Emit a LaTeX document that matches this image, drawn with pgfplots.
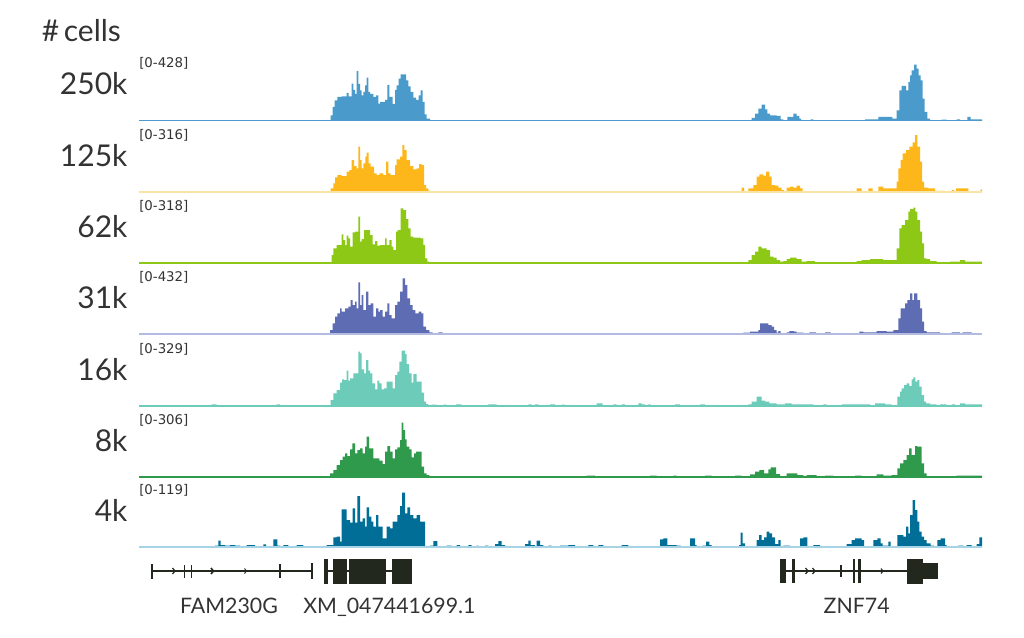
\documentclass[border=0pt]{standalone}
\usepackage{pgfplots}
\pgfplotsset{compat=1.18}
\usepackage{fontspec}
\setmainfont{Lato}
\newfontfamily\dejavu{DejaVu Sans}
\definecolor{c1}{HTML}{4A9BCB}
\definecolor{c2}{HTML}{FDB71B}
\definecolor{c2l}{HTML}{FBE3A8}
\definecolor{c3}{HTML}{8EC817}
\definecolor{c4}{HTML}{5E6DB3}
\definecolor{c4l}{HTML}{B4BBE0}
\definecolor{c5}{HTML}{6DCBB9}
\definecolor{c6}{HTML}{2F9A4C}
\definecolor{c7}{HTML}{006E96}
\definecolor{c7l}{HTML}{A6D3E6}
\definecolor{gc}{HTML}{23281F}
\definecolor{tc}{HTML}{333333}
\pgfplotsset{
  trk/.style={hide axis, scale only axis, width=632.25pt, height=43.5pt,
    xmin=139, xmax=982, ymin=0, ymax=58, anchor=south west},
}
\begin{document}
\begin{tikzpicture}
% ---------- track 1 : 250k
\begin{axis}[trk, at={(104.25pt,-90.75pt)}]
\addplot[const plot, fill=c1, draw=none] coordinates {(139,0) (330.7,5.7) (332.7,14) (334.7,20.7) (337.3,24) (341.7,24.7) (346.7,28) (348.7,24.7) (351.7,37.3) (353.3,31) (355,27) (356.7,50) (358.3,37) (360,30.7) (361.7,25.7) (363.3,29) (365,35.7) (366.7,43.3) (368.3,29) (370,27) (373.3,24) (376,25.7) (378.3,17.3) (380,19) (385,21) (387.3,36) (389.3,24) (392.7,17) (395,31) (396.7,35.7) (398.7,42.3) (400.7,46.7) (406,40.7) (408.3,34.7) (410.7,29) (413.3,23.3) (416,21) (418.7,25.7) (420.7,30.7) (422.7,19) (424.7,6.7) (426.7,2.3) (430,0)
(751.7,3) (755,7.3) (758.3,12.3) (761.7,16.3) (765,11.7) (767.3,7.3) (770,5.7) (776.7,5) (780.7,1.7) (783.3,0) (787.3,4) (793.3,7.3) (796.7,5) (799.3,2.3) (801,0) (810.7,1.7) (813.3,0) (865,1.7) (878.3,4) (892.3,2.3) (896.7,10.7) (899.3,30.7) (901.7,35) (906,30.7) (908.3,39) (910,45.7) (911.7,50.7) (914,56.3) (916.7,52.3) (918.7,45.7) (920.7,40.7) (922.7,22.3) (924.7,9) (927.3,2.3) (930,0) (941.7,1.3) (946.7,0) (956.7,1.7) (960,0) (967.3,4) (970.7,1.7) (982,0)} \closedcycle;
\addplot[c1, line width=1.4pt] coordinates {(139,0) (982,0)};
\end{axis}
% ---------- track 2 : 125k
\begin{axis}[trk, at={(104.25pt,-144.225pt)}]
\addplot[const plot, fill=c2, draw=none] coordinates {(139,0) (330.7,4) (333.3,9) (335,15) (337.3,17.3) (341.7,16.3) (346.7,20.7) (349.3,22.3) (351.7,32.3) (354,26.3) (356.7,24) (358.3,45.7) (360,32.3) (361.7,24) (363.3,29) (365.3,35.7) (366.7,39.7) (368.7,29) (370.7,25.7) (374,19) (376.7,17.3) (379.3,19) (383.3,17.3) (386,30.7) (388.3,19) (390.7,17.3) (395,27.3) (396.7,33) (400,35.7) (402.3,47.3) (404.3,42.3) (406.7,32.3) (410,26.3) (413.3,23) (416.7,24) (419,28.3) (421.7,27.3) (424,7.3) (426,4) (428.3,1.7) (430,0)
(741.7,4.7) (744,0) (748.3,4) (753.3,7.3) (756.7,15.7) (759.3,18) (763.3,16.7) (766,20.7) (769.3,15.7) (771.7,7.3) (775,6.7) (778.3,4.7) (781.7,2.3) (784,0) (786.7,4.7) (790,5.7) (793.3,4.7) (796.7,6.7) (800,4) (802.7,0) (856.7,4) (861.7,0) (868.3,4) (872.7,0) (878.3,5.7) (883.3,4) (896.7,10.7) (898.3,24) (900.7,32.3) (902.7,39) (906,42.3) (909.3,45.7) (912.7,50) (915,57.3) (917.3,45.7) (920,30.7) (922,10.7) (924,4.7) (928.3,4) (935,1.3) (945,0) (951.7,2.3) (954,0) (956,4) (968.3,0) (980.7,3) (982,0)} \closedcycle;
\addplot[c2l, line width=1.4pt] coordinates {(139,0) (982,0)};
\end{axis}
% ---------- track 3 : 62k
\begin{axis}[trk, at={(104.25pt,-197.475pt)}]
\addplot[const plot, fill=c3, draw=none] coordinates {(139,0) (331.7,8.3) (333.3,15) (336.7,18.3) (341.7,29) (343.3,23.3) (345,18.3) (346.7,27.7) (348.3,25) (350,16.7) (352.7,31) (355,31.7) (358.3,46.7) (360,21.7) (361.7,24.3) (364,33.3) (370,28.3) (372.7,19) (375,22.3) (377.3,17.7) (380,18.3) (385,25) (386.7,18.3) (389.3,23.3) (391.7,16.7) (393.3,13.3) (396,31.7) (397.7,33.3) (400.7,55) (403.3,53.3) (406,44.3) (408.3,35) (410.7,26.7) (413.3,25.7) (420.7,25) (423.3,18.3) (425,5) (427.3,1.7) (429.3,0)
(748.3,3.3) (751.7,8.3) (755,11.7) (758.3,16.7) (761.7,15) (766.7,13.3) (770,6.7) (773.3,5.7) (776.7,3.3) (780,1.7) (783.3,2.3) (786.7,4.3) (790,5.7) (796.7,4.3) (801.7,1.7) (806.7,2.3) (815,0) (856.7,2.3) (861.7,3.3) (870,4.3) (883.3,3.3) (896.7,15) (899.3,35) (901.7,38.3) (905,43.3) (908.3,51.7) (910,54.3) (913.3,55.7) (915.3,51.7) (917.3,43.3) (920,31.7) (922,20) (924,5) (926.7,4.3) (930,2.3) (936.7,0) (950,1.7) (960,3.3) (965,1.7) (982,0)} \closedcycle;
\addplot[c3, line width=2.2pt] coordinates {(139,0) (982,0)};
\end{axis}
% ---------- track 4 : 31k
\begin{axis}[trk, at={(104.25pt,-250.725pt)}]
\addplot[const plot, fill=c4, draw=none] coordinates {(139,0) (330,4.3) (332.7,11) (335,17.7) (337.3,21) (340,26) (341.7,22.7) (345,26) (348.3,27.7) (350.7,34.3) (352.7,29.3) (355,32.7) (356.7,26) (358.3,52) (360,29.3) (361.7,39.3) (363.3,24.3) (366,42.7) (368.3,29.3) (370.7,31) (373.3,17.7) (376,26) (378.3,22.7) (380,24.3) (382.7,17.7) (385,22.7) (387.3,31) (389.3,19.3) (391.7,16) (395,29.3) (397.3,32.7) (400,42.7) (402.7,56) (405,49.3) (407.3,36) (410,29.3) (412.7,24.3) (415.3,21) (418.7,22.7) (421.3,21) (423.3,7.7) (426,4.3) (429.3,2) (432.7,0) (438.3,2) (442.7,0)
(743.3,1.7) (750,2.7) (758.3,4.3) (760,11) (768.3,9.3) (771.7,7.7) (774,4.3) (776.7,1.7) (778.3,3.3) (780.7,0) (786.7,2) (789.3,3.3) (794,2.7) (796.7,1.7) (803.3,0) (809.3,2) (816,0) (825,2) (830.7,0) (859.3,2.7) (863.3,2) (876.7,3.3) (886.7,2.7) (893.3,4.3) (898.3,16) (900.7,26) (905,31) (907.3,34.3) (910,41) (912.3,34.3) (914,41) (917.3,34.3) (920,26) (922,12.7) (924,3.3) (926.7,2) (940,0) (951.7,2) (960,0) (962.7,2) (971.7,0) (982,0)} \closedcycle;
\addplot[c4l, line width=1.4pt] coordinates {(139,0) (982,0)};
\end{axis}
% ---------- track 5 : 16k
\begin{axis}[trk, at={(104.25pt,-304.5pt)}]
\addplot[const plot, fill=c5, draw=none] coordinates {(139,0) (211.7,1.7) (216.7,0) (276.7,1.7) (280,0) (330.7,6) (333.3,12.7) (336.7,16) (340,23.3) (342,26.7) (344,26) (346.7,35.3) (348.3,25.3) (350,27.7) (353.3,32.7) (358.3,54.3) (360,52.7) (361.7,36.7) (364,32.7) (366,46) (368.3,35.3) (370,32.7) (372.3,22.7) (375,16.7) (377.3,25.3) (379.3,22.7) (381.7,16.7) (384,17.7) (386.7,24.3) (392.7,17.7) (395,31) (397.3,34.3) (399.3,44.3) (401.7,55.3) (405,52) (406.7,42) (409,32.7) (411.7,23.3) (413.3,32) (416.7,24.3) (421.7,13.3) (424,4.3) (426,2) (428.3,0) (431.7,1.3) (436.7,0) (443.3,1.3) (446.7,0) (456,1.7) (461.7,0) (488.3,1.7) (496.7,0) (528.3,1.7) (531.7,0) (535,1.7) (538.3,0) (550,1.7) (555,0) (561.7,1.3) (565,0)
(596.7,2.7) (602.7,0) (613.3,1.7) (616.7,0) (621.7,1.7) (625,0) (638.3,2.7) (641.7,1.7) (645,0) (648.3,1.7) (650.7,0) (675,1.7) (680,0) (700,1.7) (705,0) (748.3,1.7) (751.7,4.3) (756.7,9.3) (761.7,5.3) (765,4.3) (769.3,2.7) (776.7,1.7) (785,2.7) (791.7,1.7) (813.3,0) (823.3,1.7) (826.7,0) (841.7,1.7) (870,0) (875,2.7) (885,1.7) (891.7,0) (897.3,9.3) (900,14.3) (901.7,17.7) (904,21) (906.7,22.7) (909.3,20) (911.7,26.7) (913.3,28.7) (915.3,24.3) (917.3,26) (919.3,19.3) (921.7,11) (924,4.3) (926,2.7) (930,1.7) (936.7,0) (940,1.7) (946.7,0) (951.7,1.7) (955,0) (960,2.7) (965,1.7) (982,0)} \closedcycle;
\addplot[c5, line width=1.2pt] coordinates {(139,0) (982,0)};
\end{axis}
% ---------- track 6 : 8k
\begin{axis}[trk, at={(104.25pt,-357.975pt)}]
\addplot[const plot, fill=c6, draw=none] coordinates {(139,0) (223.3,1.3) (227.3,0) (246,1.3) (248.3,0) (256,1.3) (258.3,0) (275,1.3) (303.3,0) (315,1.3) (318.3,0) (323.3,1.3) (330,4) (333.3,7.3) (336.7,12.3) (340,17.3) (342.7,20.7) (345,24) (347.3,21.3) (350,28) (352.3,34) (355,24) (357.3,27.3) (360,29) (362.7,24) (365,30.7) (366.7,40.7) (369,29) (373.3,19) (379.3,16.7) (382.7,13.3) (385,25.7) (387.3,31.3) (390,25.7) (392.7,19) (395,28) (397.3,30) (400,37.3) (401.7,54.7) (403.3,47.3) (405,38) (406.7,30.7) (409.3,28) (411.7,20) (414,24) (416,25.7) (421.7,10.7) (424,4) (426.7,2.3) (429.3,0) (435,1.3) (440.7,0) (471.7,1.3) (478.3,0) (503.3,1.3) (513.3,0) (530,1.3) (536.7,0)
(586.7,1.7) (595,0) (650,1.7) (656.7,0) (673.3,1.7) (676.7,0) (705,1.7) (711.7,0) (735,1.7) (741.7,0) (750,3) (755,5.7) (759.3,7.3) (764,4) (768.3,8) (770.7,10) (776,3.3) (780,0) (786.7,4) (797.3,2.3) (803.3,1.3) (806.7,2.3) (816.7,0) (825,1.7) (833.3,0) (855,1.7) (861.7,0) (876.7,3) (883.3,1.7) (891.7,2.3) (897.3,9) (900,14) (903.3,17.3) (906.7,22.3) (909,29) (911.7,22.3) (915,31.3) (917.3,30.7) (921.7,14) (924,4) (926.7,1.3) (946.7,0) (951.7,1.3) (956.7,1.7) (982,0)} \closedcycle;
\addplot[c6, line width=1.5pt] coordinates {(139,0) (982,0)};
\end{axis}
% ---------- track 7 : 4k
\begin{axis}[trk, at={(104.25pt,-410.475pt)}]
\addplot[const plot, fill=c7, draw=none] coordinates {(139,0) (215,1.7) (218.3,6.7) (220.7,2.3) (225,1.7) (230,2.3) (235,1.7) (240,0) (246.7,2.3) (255,0) (263.3,3) (266,0) (273.3,8) (277.3,1.7) (280,0) (283.3,2.3) (288.3,0) (296.7,2.3) (303.3,0) (311.7,1.3) (315,0) (316.7,1.3) (320,0) (326.7,2.3) (333.3,10) (336.7,10.7) (340,5.7) (341.7,38) (346.7,27.3) (350,24.7) (352.7,39) (355,24.7) (357.3,51.3) (360,25.7) (362.7,29) (365,20.7) (366.7,40) (369,30.7) (371.3,25.7) (373.3,20.7) (376,32.3) (378.3,20.7) (382.7,9) (386.7,20.7) (390,19) (392.7,25.7) (397.3,32.3) (400,41.3) (402,54.7) (405,34) (407.3,40) (410,32.3) (413.3,29) (416.7,32.3) (420,25.7) (425,0) (430,1.7) (433.3,6.3) (437.3,0) (446.7,1.7) (451.7,0) (456.7,2.3) (460,0) (468.3,2.3) (471.7,0) (476.7,1.7) (478.3,0) (485,1.7) (488.3,0) (495,3.3) (498.3,6.3) (501.7,2.3) (505,0) (525,3.3) (528.3,6.7) (530.7,2.3) (535,0) (536.7,6.7) (540,2.3) (543.3,0) (548.3,1.7) (551.7,0) (560,1.7) (568.3,2.3) (575,0)
(580,1.3) (583.3,0) (588.3,2.3) (593.3,0) (598.3,2.3) (603.3,0) (615,1.3) (618.3,0) (621.7,2.3) (628.3,0) (650,1.3) (652.7,0) (660,8) (663.3,9) (667.3,2.3) (676.7,1.7) (680.7,0) (690,9) (695,2.3) (696.7,0) (702.7,1.7) (706,5.7) (709.3,2.3) (711.7,0) (739,2.3) (740.7,14.7) (742.7,4) (745,0) (756.7,7.3) (759,12.3) (761.7,7.3) (764,10) (766.7,15.7) (769.3,14) (772,10) (775,3.3) (778.3,7.3) (780.7,0.7) (783.3,1.7) (790,0.7) (800,9) (803.3,10) (807.3,1.3) (809.3,0) (813.3,2.3) (820,1.3) (825,0) (836.7,1.3) (843.3,0) (846.7,3.3) (851.7,7.3) (855,9) (861.7,7.3) (864,0.7) (870,0) (873.3,7.3) (877.3,9) (880.7,4) (882.7,1.7) (888.3,5.7) (890.7,1.3) (897.3,12.3) (903.3,10.7) (906,20.7) (908.3,14) (910,32.3) (912.7,47.3) (915,37.3) (917.3,25.7) (919.3,15.7) (921.7,10.7) (924,7.3) (926.7,4) (930.7,1.7) (934,0) (937.3,7.3) (940.7,9) (945,2.3) (946.7,0) (958.3,1.7) (963.3,0) (966.7,2.3) (971.7,0) (976.7,3.3) (979.3,10) (982,0)} \closedcycle;
\addplot[c7l, line width=1.4pt] coordinates {(139,0) (982,0)};
\end{axis}
% ---------- gene track
\begin{axis}[trk, ymin=-15, ymax=15, height=22.5pt, at={(104.25pt,-439.5pt)}]
% FAM230G
\addplot[gc, line width=1.1pt] coordinates {(151.7,0) (311.7,0)};
\addplot[gc, line width=1.4pt] coordinates {(151.7,-7.5) (151.7,7.5)};
\addplot[gc, line width=1.4pt] coordinates {(311.7,-8) (311.7,8)};
\addplot[gc, line width=1.1pt] coordinates {(184.3,-6.5) (184.3,6.5)};
\addplot[gc, line width=1.1pt] coordinates {(191.7,-6.5) (191.7,6.5)};
\addplot[gc, line width=1.1pt] coordinates {(280,-7) (280,7)};
\addplot[gc, line width=0.9pt] coordinates {(172.5,3) (175,0) (172.5,-3)};
\addplot[gc, line width=1.2pt] coordinates {(211,3) (213.5,0) (211,-3)};
\addplot[gc, line width=0.7pt] coordinates {(244.5,2.5) (246.5,0) (244.5,-2.5)};
% XM_047441699.1
\addplot[gc, line width=1.1pt] coordinates {(326,0) (392,0)};
\addplot[fill=gc, draw=none] coordinates {(324.3,-12.5) (324.3,12.5) (328.3,12.5) (328.3,-12.5)};
\addplot[fill=gc, draw=none] coordinates {(333.3,-12.5) (333.3,12.5) (346.7,12.5) (346.7,-12.5)};
\addplot[fill=gc, draw=none] coordinates {(349.3,-12.5) (349.3,12.5) (386,12.5) (386,-12.5)};
\addplot[fill=gc, draw=none] coordinates {(391.7,-12.5) (391.7,12.5) (411.7,12.5) (411.7,-12.5)};
% ZNF74
\addplot[gc, line width=1.1pt] coordinates {(786,0) (907,0)};
\addplot[fill=gc, draw=none] coordinates {(780,-11.7) (780,11.7) (786,11.7) (786,-11.7)};
\addplot[fill=gc, draw=none] coordinates {(791.7,-11.7) (791.7,11.7) (795,11.7) (795,-11.7)};
\addplot[fill=gc, draw=none] coordinates {(852.7,-11.7) (852.7,11.7) (855,11.7) (855,-11.7)};
\addplot[fill=gc, draw=none] coordinates {(858,-11.7) (858,11.7) (860.7,11.7) (860.7,-11.7)};
\addplot[fill=gc, draw=none] coordinates {(906.7,-12.5) (906.7,12.5) (923.3,12.5) (923.3,-12.5)};
\addplot[fill=gc, draw=none] coordinates {(923.3,-7.8) (923.3,7.8) (938.3,7.8) (938.3,-7.8)};
\addplot[gc, line width=1pt] coordinates {(841,-6) (841,6)};
\addplot[gc, line width=0.9pt] coordinates {(805.5,3) (808,0) (805.5,-3)};
\addplot[gc, line width=0.9pt] coordinates {(812.5,3) (815,0) (812.5,-3)};
\addplot[gc, line width=0.8pt] coordinates {(881,2.5) (883,0) (881,-2.5)};
\end{axis}
% ---------- texts
\begin{scope}[x=0.75pt, y=-0.75pt, every node/.style={inner sep=0pt, text=tc}]
\node[anchor=base west, font=\fontsize{22.5}{24}\selectfont] at (41.7,41.7) {\#\hspace{0.15em}cells};
\foreach \lab/\b in {250k/121, 125k/192.3, 62k/263.3, 31k/334.3, 16k/406, 8k/477.3, 4k/547.3}{
  \node[anchor=base east, font=\fontsize{22.5}{24}\selectfont] at (127.7,\b-26) {\lab};
}
\foreach \lab/\b in {428/121, 316/192.3, 318/263.3, 432/334.3, 329/406, 306/477.3, 119/547.3}{
  \node[anchor=base west, font=\dejavu\fontsize{10}{11}\selectfont] at (139,\b-53) {[0-\lab]};
}
\node[anchor=base, font=\fontsize{16}{18}\selectfont] at (229,613) {FAM230G};
\node[anchor=base, font=\fontsize{16}{18}\selectfont] at (389.5,613) {XM\_047441699.1};
\node[anchor=base, font=\fontsize{16}{18}\selectfont] at (856.7,613) {ZNF74};
\end{scope}
\pgfresetboundingbox
\path[use as bounding box] (0,0) rectangle (768pt,-478.5pt);
\end{tikzpicture}
\end{document}
